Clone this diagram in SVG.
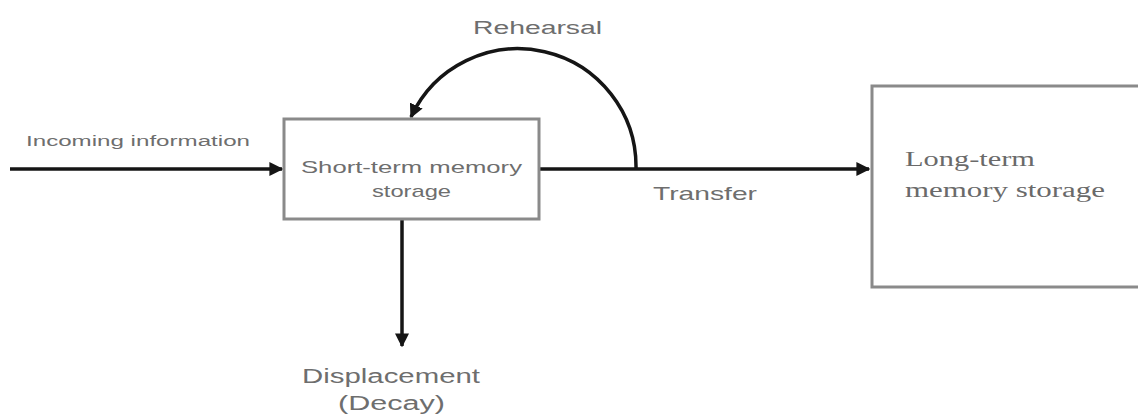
<svg xmlns="http://www.w3.org/2000/svg" width="1138" height="416" viewBox="0 0 1138 416">
<style>
.box{fill:#fff;stroke:#8a8a8a;stroke-width:3}
.conn{fill:none;stroke:#151515;stroke-width:3.5}
.lbl{font-family:"Liberation Sans",Arial,sans-serif;fill:#6e6e6e}
.ser{font-family:"Liberation Serif","Times New Roman",serif;fill:#6a6a6a}
</style>
<defs>
<marker id="ah" viewBox="0 0 10 10" refX="9" refY="5" markerWidth="4" markerHeight="4" orient="auto" markerUnits="strokeWidth">
<path d="M0,0 L10,5 L0,10 z" fill="#151515"/>
</marker>
</defs>
<rect width="1138" height="416" fill="#fff"/>
<g id="connectors">
<line class="conn" x1="10" y1="169" x2="282" y2="169" marker-end="url(#ah)"/>
<line class="conn" x1="540" y1="169" x2="869" y2="169" marker-end="url(#ah)"/>
<path class="conn" d="M636,169 A118,118 0 0 0 411,117" marker-end="url(#ah)"/>
<line class="conn" x1="402" y1="220" x2="402" y2="346" marker-end="url(#ah)"/>
</g>
<g id="short-term">
<rect class="box" x="284" y="119" width="255" height="100"/>
<text class="lbl" x="301" y="173" font-size="17" textLength="221" lengthAdjust="spacingAndGlyphs">Short-term memory</text>
<text class="lbl" x="372" y="197" font-size="17" textLength="79" lengthAdjust="spacingAndGlyphs">storage</text>
</g>
<g id="long-term">
<rect class="box" x="872" y="86" width="280" height="201"/>
<text class="ser" x="905" y="166" font-size="20" textLength="130" lengthAdjust="spacingAndGlyphs">Long-term</text>
<text class="ser" x="905" y="197" font-size="20" textLength="200" lengthAdjust="spacingAndGlyphs">memory storage</text>
</g>
<g id="labels">
<text class="lbl" x="26" y="146" font-size="14" textLength="224" lengthAdjust="spacingAndGlyphs">Incoming information</text>
<text class="lbl" x="473" y="34" font-size="18" textLength="129" lengthAdjust="spacingAndGlyphs">Rehearsal</text>
<text class="lbl" x="653" y="200" font-size="19" textLength="104" lengthAdjust="spacingAndGlyphs">Transfer</text>
<text class="lbl" x="302" y="383" font-size="20" textLength="178" lengthAdjust="spacingAndGlyphs">Displacement</text>
<text class="lbl" x="338" y="410" font-size="20" textLength="107" lengthAdjust="spacingAndGlyphs">(Decay)</text>
</g>
</svg>
